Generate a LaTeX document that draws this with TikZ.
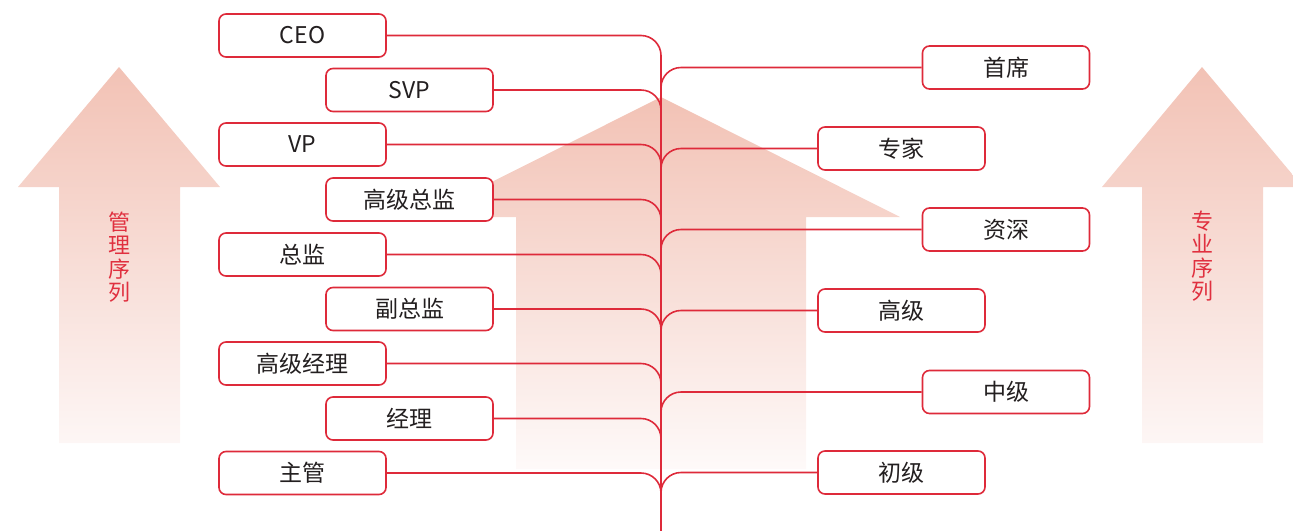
\documentclass[tikz,border=0pt]{standalone}
\usepackage{fontspec}
\setmainfont{Noto Sans CJK SC}
\definecolor{linered}{HTML}{DE2A3A}
\definecolor{labelred}{HTML}{E0303F}
\definecolor{txt}{HTML}{231F20}
\definecolor{arrtop}{HTML}{F2C2B5}
\definecolor{arrbot}{HTML}{FDF6F5}
\tikzset{
  lvl/.style={draw=linered, line width=1.6pt, rounded corners=7pt, fill=white,
    minimum width=167pt, minimum height=43pt, inner sep=0pt, text=txt,
    font=\fontsize{23}{23}\selectfont},
  branch/.style={draw=linered, line width=1.6pt, rounded corners=20pt},
  trunkline/.style={draw=linered, line width=1.6pt},
  bigarrow/.style={top color=arrtop, bottom color=arrbot, draw=none},
  seqlabel/.style={text=labelred, font=\fontsize{22}{23.5}\selectfont, align=center, inner sep=0pt}
}
\begin{document}
\begin{tikzpicture}[x=1pt,y=-1pt]
\useasboundingbox (0,0) rectangle (1293,531);
% background arrows
\shade[bigarrow] (119,67) -- (220,187) -- (180,187) -- (180,443) -- (59,443) -- (59,187) -- (18,187) -- cycle;
\shade[bigarrow] (1202,67) -- (1303,187) -- (1263,187) -- (1263,443) -- (1142,443) -- (1142,187) -- (1102,187) -- cycle;
\shade[bigarrow, bottom color=arrbot!60!white] (661,97) -- (900,217) -- (806,217) -- (806,469) -- (516,469) -- (516,217) -- (422,217) -- cycle;
\node[seqlabel] (mgmt) at (119,257) {管\\理\\序\\列};
\node[seqlabel] (prof) at (1202,256) {专\\业\\序\\列};
% trunk
\coordinate (trunktop) at (661,57);
\coordinate (trunkbot) at (661,531);
\draw[trunkline] (trunktop) -- (trunkbot);
% boxes
\node[lvl] (ceo)  at (302.5,35.5) {CEO};
\node[lvl] (svp)  at (409.5,90) {SVP};
\node[lvl] (vp)   at (302.5,144.5) {VP};
\node[lvl] (gjzj) at (409.5,199.5) {高级总监};
\node[lvl] (zj)   at (302.5,254.5) {总监};
\node[lvl] (fzj)  at (409.5,309) {副总监};
\node[lvl] (gjjl) at (302.5,363.5) {高级经理};
\node[lvl] (jl)   at (409.5,418.5) {经理};
\node[lvl] (zg)   at (302.5,473) {主管};
\node[lvl] (sx)   at (1006,67.5) {首席};
\node[lvl] (zjia) at (901.5,148.5) {专家};
\node[lvl] (zs)   at (1006,229.5) {资深};
\node[lvl] (gj)   at (901.5,310.5) {高级};
\node[lvl] (zhj)  at (1006,392) {中级};
\node[lvl] (cj)   at (901.5,472.5) {初级};
% branches
\foreach \b in {ceo,svp,vp,gjzj,zj,fzj,gjjl,jl,zg}{
  \draw[branch] (\b.east) -| ([yshift=-24pt]\b.east -| trunktop);
}
\foreach \b in {sx,zjia,zs,gj,zhj,cj}{
  \draw[branch] (\b.west) -| ([yshift=-24pt]\b.west -| trunktop);
}
\end{tikzpicture}
\end{document}
